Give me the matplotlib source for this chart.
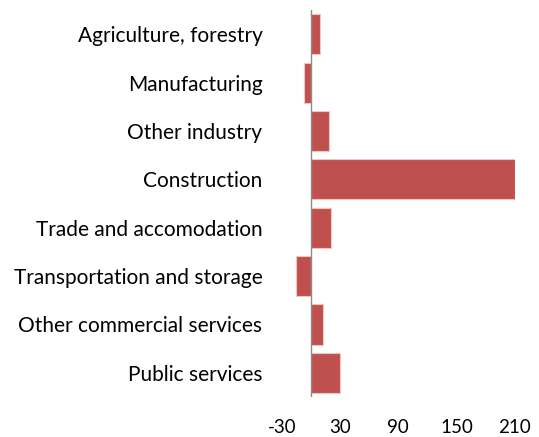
import numpy as np
import matplotlib
matplotlib.use("Agg")
from matplotlib import pyplot as plt

plt.rcParams['font.family'] = ['Lato', 'DejaVu Sans']

sectors = ['Agriculture, forestry', 'Manufacturing', 'Other industry', 'Construction',
           'Trade and accomodation', 'Transportation and storage',
           'Other commercial services', 'Public services']
change = [9.5, -7.5, 19, 210, 21, -15, 12, 30]
xticks = [-30, 30, 90, 150, 210]

fig = plt.figure(figsize=(5.39, 4.37), dpi=100)
ax = fig.add_axes([0.523, 0.0915, 0.432, 0.8855])

y = np.arange(len(sectors))
ax.barh(y, change, height=0.83, color='#C0504D', edgecolor='#F2C4C3', linewidth=0.8, zorder=2)
ax.axvline(0, color='#8C8C8C', linewidth=1, zorder=3)

ax.set_xlim(-30, 210)
ax.set_ylim(len(sectors) - 0.5, -0.5)
ax.set_xticks(xticks)
ax.set_xticklabels([str(t) for t in xticks])
ax.set_yticks(y)
ax.set_yticklabels(sectors)
ax.tick_params(length=0, colors='#000000')
ax.tick_params(axis='y', pad=14, labelsize=15)
ax.tick_params(axis='x', pad=16, labelsize=13.5)
for s in ax.spines.values():
    s.set_visible(False)

fig.savefig('out.png', dpi=100)
